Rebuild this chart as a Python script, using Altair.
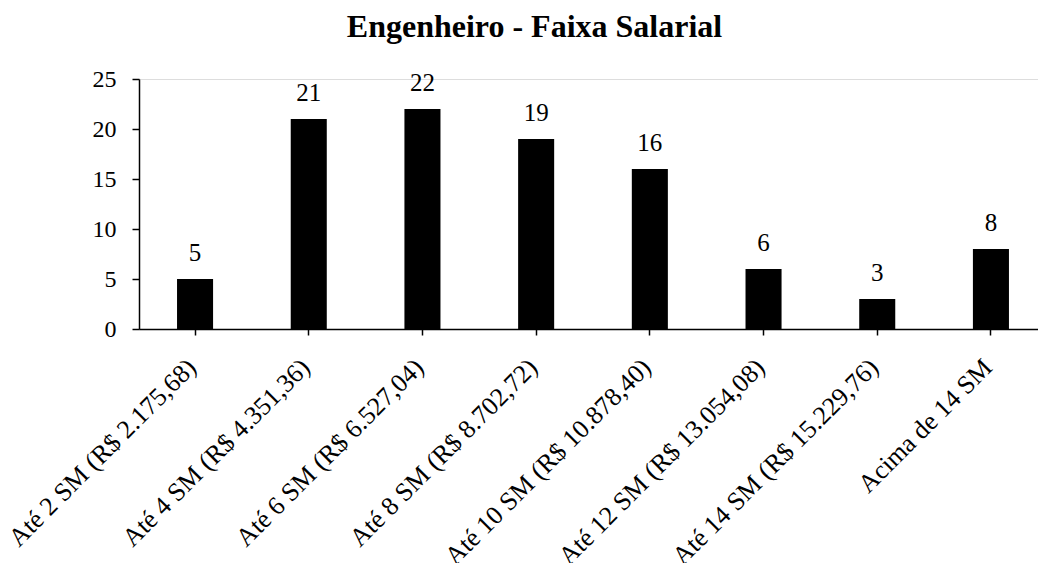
import altair as alt
import pandas as pd

categories = [
    "Até 2 SM (R$ 2.175,68)",
    "Até 4 SM (R$ 4.351,36)",
    "Até 6 SM (R$ 6.527,04)",
    "Até 8 SM (R$ 8.702,72)",
    "Até 10 SM (R$ 10.878,40)",
    "Até 12 SM (R$ 13.054,08)",
    "Até 14 SM (R$ 15.229,76)",
    "Acima de 14 SM",
]
values = [5, 21, 22, 19, 16, 6, 3, 8]
y_ticks = [0, 5, 10, 15, 20, 25]

df = pd.DataFrame({"faixa": categories, "n": values})

FONT = "Liberation Serif"

x = alt.X(
    "faixa:N",
    sort=categories,
    title=None,
    scale=alt.Scale(paddingInner=0.683, paddingOuter=0.295, align=0.567),
    axis=alt.Axis(
        labelAngle=-45,
        labelAlign="right",
        labelBaseline="middle",
        labelFont=FONT,
        labelFontSize=26,
        labelColor="black",
        labelPadding=28,
        labelOffset=-3,
        labelLimit=400,
        domainColor="black",
        domainWidth=1.5,
        tickColor="black",
        tickWidth=1.5,
        tickSize=6,
        grid=False,
    ),
)
y = alt.Y(
    "n:Q",
    title=None,
    scale=alt.Scale(domain=[0, 25], nice=False),
    axis=alt.Axis(
        values=y_ticks,
        labelFont=FONT,
        labelFontSize=24,
        labelColor="black",
        labelPadding=16,
        domainColor="black",
        domainWidth=1.5,
        tickColor="black",
        tickWidth=1.5,
        tickSize=7,
        grid=False,
    ),
)

bars = alt.Chart(df).mark_bar(color="black").encode(x=x, y=y)
labels = alt.Chart(df).mark_text(
    font=FONT, fontSize=25, color="black", baseline="alphabetic", dy=-18
).encode(x=alt.X("faixa:N", sort=categories), y="n:Q", text="n:Q")

chart = (
    alt.layer(bars, labels)
    .properties(
        width=899,
        height=250,
        autosize=alt.AutoSizeParams(type="none"),
        padding={"left": 139, "top": 79, "right": 0, "bottom": 234},
        title=alt.TitleParams(
            "Engenheiro - Faixa Salarial",
            font=FONT,
            fontSize=32,
            fontWeight="bold",
            color="black",
            anchor="middle",
            frame="group",
            baseline="alphabetic",
            offset=3,
            dx=-54,
            dy=5,
        ),
    )
    .configure_view(stroke=None)
    .configure(background="white")
)

chart.save("out.html", embed_options={"renderer": "svg", "actions": False})
